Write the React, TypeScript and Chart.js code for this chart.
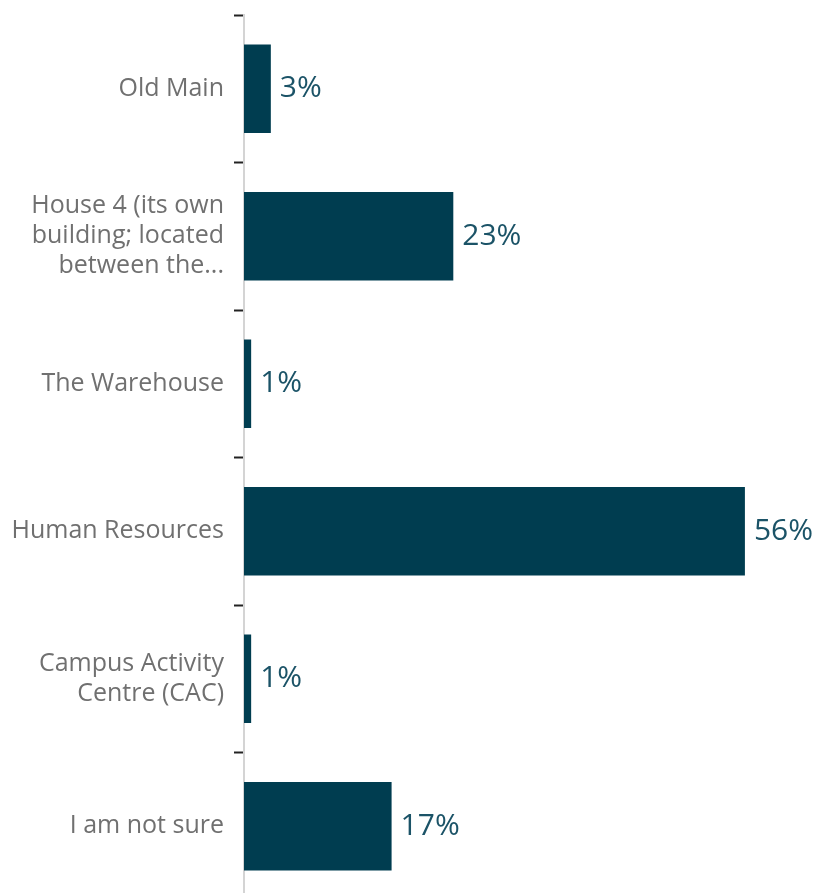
import React, { useEffect, useRef } from "react";
import { Chart, registerables } from "chart.js";

Chart.register(...registerables);

const categories: (string | string[])[] = [
  "Old Main",
  ["House 4 (its own", "building; located", "between the..."],
  "The Warehouse",
  "Human Resources",
  ["Campus Activity", "Centre (CAC)"],
  "I am not sure",
];
const values = [3.0, 23.4, 0.8, 56.0, 0.8, 16.5];
const valueLabels = ["3%", "23%", "1%", "56%", "1%", "17%"];

const FONT = "'Open Sans', 'Noto Sans', sans-serif";

const valueLabelPlugin = {
  id: "valueLabels",
  afterDatasetsDraw(chart: any) {
    const ctx = chart.ctx;
    const meta = chart.getDatasetMeta(0);
    ctx.save();
    ctx.font = `30px ${FONT}`;
    ctx.fillStyle = "#1b5367";
    ctx.textAlign = "left";
    ctx.textBaseline = "middle";
    meta.data.forEach((bar: any, i: number) => {
      ctx.fillText(valueLabels[i], bar.x + 9, bar.y);
    });
    ctx.restore();
  },
};

export default function App() {
  const ref = useRef<HTMLCanvasElement>(null);
  useEffect(() => {
    if (!ref.current) return;
    const chart = new Chart(ref.current, {
      type: "bar",
      data: {
        labels: categories,
        datasets: [
          {
            data: values,
            backgroundColor: "#003d50",
            categoryPercentage: 0.6,
            barPercentage: 1,
          },
        ],
      },
      options: {
        indexAxis: "y",
        animation: false,
        responsive: false,
        maintainAspectRatio: false,
        layout: { padding: { top: 7, bottom: 0, right: 0, left: 0 } },
        plugins: { legend: { display: false }, tooltip: { enabled: false } },
        scales: {
          x: {
            display: false,
            min: 0,
            max: 63.5,
          },
          y: {
            afterFit: (scale: any) => {
              scale.width = 236;
              scale.paddingTop = 0;
              scale.paddingBottom = 0;
            },
            grid: {
              offset: true,
              drawOnChartArea: false,
              drawTicks: true,
              tickLength: 10,
              tickColor: "#222",
              tickWidth: 2,
            },
            border: { color: "#d4d4d4", width: 2 },
            ticks: {
              color: "#707070",
              padding: 10,
              font: { family: FONT, size: 25, lineHeight: 1.2 },
            },
          },
        },
      },
      plugins: [valueLabelPlugin],
    });
    return () => chart.destroy();
  }, []);
  return (
    <div style={{ width: 804, height: 892 }}>
      <canvas ref={ref} width={804} height={892} style={{ display: "block" }} />
    </div>
  );
}
